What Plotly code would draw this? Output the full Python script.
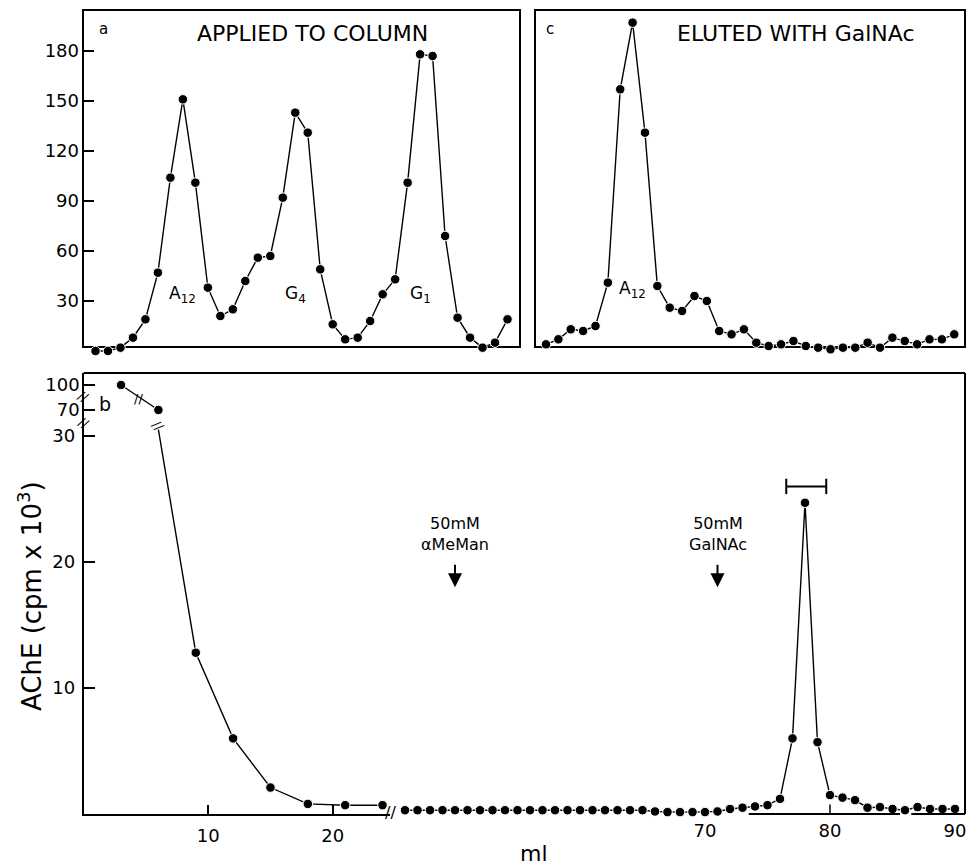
import plotly.graph_objects as go

# ---------------- data ----------------
A_FRACTION = [1, 2, 3, 4, 5, 6, 7, 8, 9, 10, 11, 12, 13, 14, 15, 16, 17,
              18, 19, 20, 21, 22, 23, 24, 25, 26, 27, 28, 29, 30, 31, 32, 33, 34]
A_ACHE = [0, 0, 2, 8, 19, 47, 104, 151, 101, 38, 21, 25, 42, 56, 57, 92, 143,
          131, 49, 16, 7, 8, 18, 34, 43, 101, 178, 177, 69, 20, 8, 2, 5, 19]

C_FRACTION = [1, 2, 3, 4, 5, 6, 7, 8, 9, 10, 11, 12, 13, 14, 15, 16, 17,
              18, 19, 20, 21, 22, 23, 24, 25, 26, 27, 28, 29, 30, 31, 32, 33, 34]
C_ACHE = [4, 7, 13, 12, 15, 41, 157, 197, 131, 39, 26, 24, 33, 30, 12, 10, 13,
          5, 3, 4, 6, 3, 2, 1, 2, 2, 5, 2, 8, 6, 4, 7, 7, 10]

A_PEAK_LABELS = ["A<sub>12</sub>", "G<sub>4</sub>", "G<sub>1</sub>"]
A_PEAK_FRACTIONS = [8, 17, 27]
C_PEAK_LABELS = ["A<sub>12</sub>"]
C_PEAK_FRACTIONS = [8]
TOP_TICKS = [30, 60, 90, 120, 150, 180]

B_ML_LEFT = [3, 6, 9, 12, 15, 18, 21, 24]
B_ACHE_LEFT = [100, 70, 12.8, 6.0, 2.1, 0.8, 0.7, 0.7]
B_ML_RIGHT = [46, 47, 48, 49, 50, 51, 52, 53, 54, 55, 56, 57, 58, 59, 60,
              61, 62, 63, 64, 65, 66, 67, 68, 69, 70, 71, 72, 73, 74, 75,
              76, 77, 78, 79, 80, 81, 82, 83, 84, 85, 86, 87, 88, 89, 90]
B_ACHE_RIGHT = [0.3, 0.3, 0.3, 0.3, 0.3, 0.3, 0.3, 0.3, 0.3, 0.3, 0.3, 0.3, 0.3, 0.3, 0.3,
                0.3, 0.3, 0.3, 0.3, 0.3, 0.2, 0.15, 0.15, 0.15, 0.15, 0.2, 0.4, 0.5, 0.6, 0.7,
                1.2, 6.0, 24.7, 5.7, 1.5, 1.3, 1.1, 0.5, 0.55, 0.4, 0.3, 0.55, 0.4, 0.4, 0.4]
B_BREAK = 30.5          # top of the lower (linear) y segment
B_LOW_TICKS = [10, 20, 30]
B_HIGH_TICKS = [70, 100]
B_X_TICKS_LEFT = [10, 20]
B_X_TICKS_RIGHT = [70, 80, 90]
POOL_ML = [76.5, 79.7]
POOL_LEVEL = 26
EVENT_ML = [50, 71]
EVENT_TEXT = ["50mM<br>αMeMan", "50mM<br>GalNAc"]

# ---------------- layout helpers ----------------
W, H = 969, 867
FONT = "DejaVu Sans"


def px(x):
    return x / W


def py(y):
    return 1 - y / H


A_L, A_R, C_L, C_R, TOP_T, TOP_B = 83, 520, 535, 965, 10, 347
TOP_DATA_B = 356                       # data area extends a little below the frame
B_L, B_BRK, B_R, B_T, B_B = 83.7, 390, 965, 373, 814

dot = dict(size=9.5, color="black", line=dict(color="white", width=1))
ln = dict(color="black", width=1.4)

fig = go.Figure()
fig.add_trace(go.Scatter(x=A_FRACTION, y=A_ACHE, mode="lines+markers", marker=dot,
                         line=ln, xaxis="x", yaxis="y", cliponaxis=False))
fig.add_trace(go.Scatter(x=C_FRACTION, y=C_ACHE, mode="lines+markers", marker=dot,
                         line=ln, xaxis="x2", yaxis="y2", cliponaxis=False))

# panel b: values above the break on the compressed upper scale
hi_x = [m for m, v in zip(B_ML_LEFT, B_ACHE_LEFT) if v > B_BREAK]
hi_y = [v for v in B_ACHE_LEFT if v > B_BREAK]
fig.add_trace(go.Scatter(x=hi_x, y=hi_y, mode="lines+markers", marker=dot, line=ln,
                         xaxis="x3", yaxis="y4", cliponaxis=False))
# lower linear scale: the line leaves an off-scale value from the break
lo_x = B_ML_LEFT[1:]
lo_y = [min(v, B_BREAK) for v in B_ACHE_LEFT[1:]]
fig.add_trace(go.Scatter(x=lo_x, y=lo_y, mode="lines", line=ln,
                         xaxis="x3", yaxis="y3", cliponaxis=False))
on_x = [m for m, v in zip(B_ML_LEFT, B_ACHE_LEFT) if v <= B_BREAK]
on_y = [v for v in B_ACHE_LEFT if v <= B_BREAK]
fig.add_trace(go.Scatter(x=on_x, y=on_y, mode="markers", marker=dot,
                         xaxis="x3", yaxis="y3", cliponaxis=False))
fig.add_trace(go.Scatter(x=B_ML_RIGHT, y=B_ACHE_RIGHT, mode="lines+markers", marker=dot,
                         line=ln, xaxis="x4", yaxis="y3", cliponaxis=False))
fig.add_trace(go.Scatter(x=POOL_ML, y=[POOL_LEVEL, POOL_LEVEL], mode="lines+markers",
                         marker=dict(symbol="line-ns-open", size=11, color="black",
                                     line=dict(color="black", width=2)),
                         line=dict(color="black", width=2), xaxis="x4", yaxis="y3",
                         cliponaxis=False))

axis_common = dict(showgrid=False, zeroline=False, linecolor="black", linewidth=2,
                   tickcolor="black", tickwidth=1.5,
                   tickfont=dict(family=FONT, size=18, color="black"))

top_px_per_unit = (351 - 301) / 30.0
top_lo = (351 - TOP_DATA_B) / top_px_per_unit
top_hi = (351 - TOP_T) / top_px_per_unit

fig.update_layout(
    width=W, height=H, margin=dict(l=0, r=0, t=0, b=0),
    paper_bgcolor="white", plot_bgcolor="rgba(0,0,0,0)", showlegend=False,
    font=dict(family=FONT, color="black"),
    xaxis=dict(domain=[px(A_L), px(A_R)], range=[0, 35], showline=False,
               showticklabels=False, ticks="", anchor="y", **axis_common),
    yaxis=dict(domain=[py(TOP_DATA_B), py(TOP_T)], range=[top_lo, top_hi], showline=False,
               tickvals=TOP_TICKS, ticks="inside", ticklen=11, anchor="x",
               ticklabelstandoff=3, **axis_common),
    xaxis2=dict(domain=[px(C_L), px(C_R)], range=[0.11, 34.87], showline=False,
                showticklabels=False, ticks="", anchor="y2", **axis_common),
    yaxis2=dict(domain=[py(TOP_DATA_B), py(TOP_T)], range=[top_lo, top_hi], showline=False,
                showticklabels=False, ticks="", anchor="x2", **axis_common),
    xaxis3=dict(domain=[px(B_L), px(B_BRK)], range=[0, 24.6], showline=True,
                tickvals=B_X_TICKS_LEFT, ticks="inside", ticklen=9, anchor="y3",
                ticklabelstandoff=4, **axis_common),
    yaxis3=dict(domain=[py(B_B), py(B_T)], range=[0, 35], showline=True,
                tickvals=B_LOW_TICKS, ticks="inside", ticklen=11, anchor="x3",
                ticklabelstandoff=3, **axis_common),
    xaxis4=dict(domain=[px(B_BRK), px(B_R)], range=[44.8, 90.8], showline=False,
                tickvals=B_X_TICKS_RIGHT, ticks="", anchor="y3",
                ticklabelstandoff=4, **axis_common),
    yaxis4=dict(domain=[py(430), py(B_T)], range=[46, 114.4], showline=False,
                tickvals=B_HIGH_TICKS, ticks="inside", ticklen=11, anchor="x3",
                ticklabelstandoff=3, **axis_common),
)

frame = dict(color="black", width=2)
shapes = [
    dict(type="rect", xref="paper", yref="paper", x0=px(A_L), x1=px(A_R),
         y0=py(TOP_B), y1=py(TOP_T), line=frame, layer="below"),
    dict(type="rect", xref="paper", yref="paper", x0=px(C_L), x1=px(C_R),
         y0=py(TOP_B), y1=py(TOP_T), line=frame, layer="below"),
    dict(type="line", xref="paper", yref="paper", x0=px(B_L), x1=px(B_R), y0=py(B_T), y1=py(B_T),
         line=frame),
    dict(type="line", xref="paper", yref="paper", x0=px(B_R), x1=px(B_R), y0=py(B_B), y1=py(B_T),
         line=frame),
    dict(type="line", xref="x4", yref="y3 domain", x0=73.5, x1=85.6, y0=0, y1=0, line=frame),
    dict(type="line", xref="x4", yref="y3 domain", x0=86.5, x1=90.8, y0=0, y1=0, line=frame),
    dict(type="line", xref="x4", yref="y3", x0=80, x1=80, y0=0, y1=0.75,
         line=dict(color="black", width=1.5)),
]
fig.update_layout(shapes=shapes)

ann = []
title_font = dict(family=FONT, size=22, color="black")
small_font = dict(family=FONT, size=15, color="black")
lab_font = dict(family=FONT, size=17, color="black")


def note(x, y, text, font, xref="paper", yref="paper", **kw):
    d = dict(x=x, y=y, xref=xref, yref=yref, text=text, showarrow=False, font=font,
             xanchor="center", yanchor="middle")
    d.update(kw)
    ann.append(d)


note(px(103), py(29), "a", small_font)
note(px(312), py(33), "APPLIED TO COLUMN", title_font)
note(px(550), py(29), "c", small_font)
note(px(796), py(33), "ELUTED WITH GalNAc", title_font)
for t, f in zip(A_PEAK_LABELS, A_PEAK_FRACTIONS):
    note(f, 34, t, lab_font, xref="x", yref="y")
for t, f in zip(C_PEAK_LABELS, C_PEAK_FRACTIONS):
    note(f, 37, t, lab_font, xref="x2", yref="y2")

note(px(105), py(404), "b", dict(family=FONT, size=19, color="black"))
for m, t in zip(EVENT_ML, EVENT_TEXT):
    note(m, 20.5, t, dict(family=FONT, size=16, color="black"), xref="x4", yref="y3",
         yanchor="bottom")
    ann.append(dict(x=m, y=18.0, xref="x4", yref="y3", text="", showarrow=True,
                    ax=0, ay=-24, arrowhead=2, arrowsize=1.4, arrowwidth=2,
                    arrowcolor="black"))

for (bx, by, ang, sz) in [(83, 396, 30, 13), (83, 423, 30, 13), (138, 398, 0, 13),
                          (158, 425, 50, 13), (390, 812, 0, 16)]:
    note(px(bx), py(by), "//", dict(family=FONT, size=sz, color="black"), textangle=ang)

note(px(30), py(596), "AChE (cpm x 10<sup>3</sup>)", dict(family=FONT, size=26, color="black"),
     textangle=-90)
note(px(534), py(853), "ml", dict(family=FONT, size=22, color="black"))
fig.update_layout(annotations=ann)

fig.write_html("out.html", config={"displayModeBar": False},
               post_script="document.body.style.margin='0';document.body.style.overflow='hidden';")
